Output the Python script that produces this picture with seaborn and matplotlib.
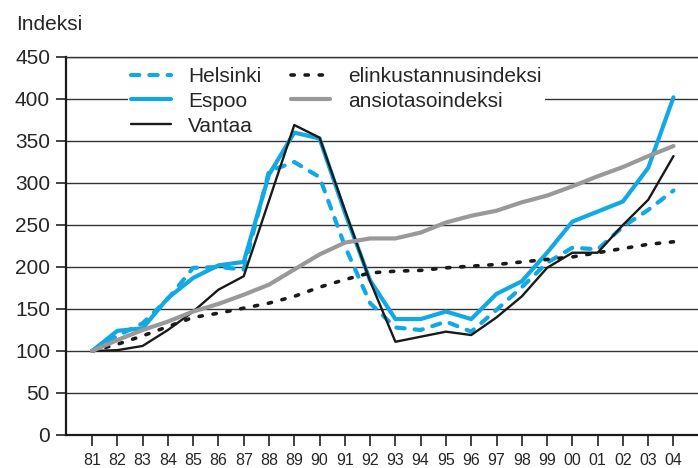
import numpy as np
import pandas as pd
import matplotlib
matplotlib.use("Agg")
import matplotlib.pyplot as plt
import seaborn as sns

# ── data ──────────────────────────────────────────────────────────
years = ["81", "82", "83", "84", "85", "86", "87", "88", "89", "90", "91", "92",
         "93", "94", "95", "96", "97", "98", "99", "00", "01", "02", "03", "04"]

helsinki = [100, 118, 133, 162, 199, 200, 197, 314, 325, 307, 225, 157,
            128, 125, 135, 123, 149, 176, 205, 223, 221, 248, 268, 291]
espoo = [100, 124, 127, 163, 187, 202, 206, 310, 360, 353, 265, 184,
         138, 138, 147, 138, 168, 183, 217, 254, 266, 278, 318, 402]
vantaa = [100, 101, 106, 125, 147, 173, 189, 279, 369, 354, 268, 183,
          111, 117, 123, 119, 140, 165, 199, 217, 217, 250, 280, 332]
elinkust = [100, 108, 118, 129, 140, 145, 151, 157, 165, 176, 185, 193,
            195, 196, 199, 201, 203, 206, 209, 212, 217, 222, 227, 230]
ansiotaso = [100, 113, 125, 135, 147, 156, 167, 179, 197, 215, 229, 234,
             234, 241, 253, 261, 267, 277, 285, 296, 308, 319, 332, 344]

labels = ["Helsinki", "Espoo", "Vantaa", "elinkustannusindeksi", "ansiotasoindeksi"]
y_ticks = [0, 50, 100, 150, 200, 250, 300, 350, 400, 450]

BLUE = "#12a8e4"

sns.set_style("white")
plt.rcParams["font.family"] = ["Liberation Sans", "DejaVu Sans"]

fig = plt.figure(figsize=(6.98, 4.68), dpi=100)
ax = fig.add_axes([66 / 698, 33 / 468, 632 / 698, 378 / 468])

x = np.arange(len(years))
styles = [
    (helsinki,  dict(color=BLUE, lw=3.0, linestyle=(0, (2.0, 2.4)),
                     dash_capstyle="round")),
    (espoo,     dict(color=BLUE, lw=3.0, linestyle="-", solid_capstyle="round")),
    (vantaa,    dict(color="#1a1a1a", lw=1.7, linestyle="-")),
    (elinkust,  dict(color="#1a1a1a", lw=2.6, linestyle=(0, (0.9, 3.0)),
                     dash_capstyle="round")),
    (ansiotaso, dict(color="#999999", lw=3.0, linestyle="-", solid_capstyle="round")),
]
for (vals, kw), lab in zip(styles, labels):
    sns.lineplot(x=x, y=vals, ax=ax, label=lab, zorder=3, **kw)

# ── axes ─────────────────────────────────────────────────────────
ax.set_xlim(-1.03, 23.97)
ax.set_ylim(0, 450)
ax.set_xticks(x)
ax.set_xticklabels(years, fontsize=11.5)
ax.set_yticks(y_ticks)
ax.set_yticklabels([str(v) for v in y_ticks], fontsize=15)
ax.tick_params(axis="x", direction="out", length=8, width=1.2, pad=5, color="#222222")
ax.tick_params(axis="y", direction="out", length=7.5, width=1.2, pad=4, color="#222222")
ax.xaxis.set_ticks_position("bottom")
ax.yaxis.set_ticks_position("left")

ax.set_axisbelow(True)
ax.grid(axis="y", color="#333333", lw=1.0)
ax.grid(axis="x", visible=False)
ax.spines["right"].set_visible(False)
ax.spines["top"].set_color("#333333")
ax.spines["top"].set_linewidth(1.0)
ax.spines["left"].set_color("#1a1a1a")
ax.spines["left"].set_linewidth(1.6)
ax.spines["bottom"].set_color("#1a1a1a")
ax.spines["bottom"].set_linewidth(1.6)
ax.set_xlabel("")
ax.set_ylabel("")

# legend sits under the data lines but over the gridlines
leg = ax.legend(ncol=2, loc="upper left", bbox_to_anchor=(0.098, 0.982),
                fontsize=15, frameon=True, facecolor="white", edgecolor="none",
                framealpha=1.0, fancybox=False, handlelength=1.9,
                handletextpad=0.85, columnspacing=1.4, labelspacing=0.28,
                borderpad=0.15, borderaxespad=0.0)
leg.set_zorder(1.5)

fig.text(16 / 698, (468 - 30) / 468, "Indeksi", fontsize=15, va="baseline", ha="left")

fig.savefig("out.png", dpi=100)
